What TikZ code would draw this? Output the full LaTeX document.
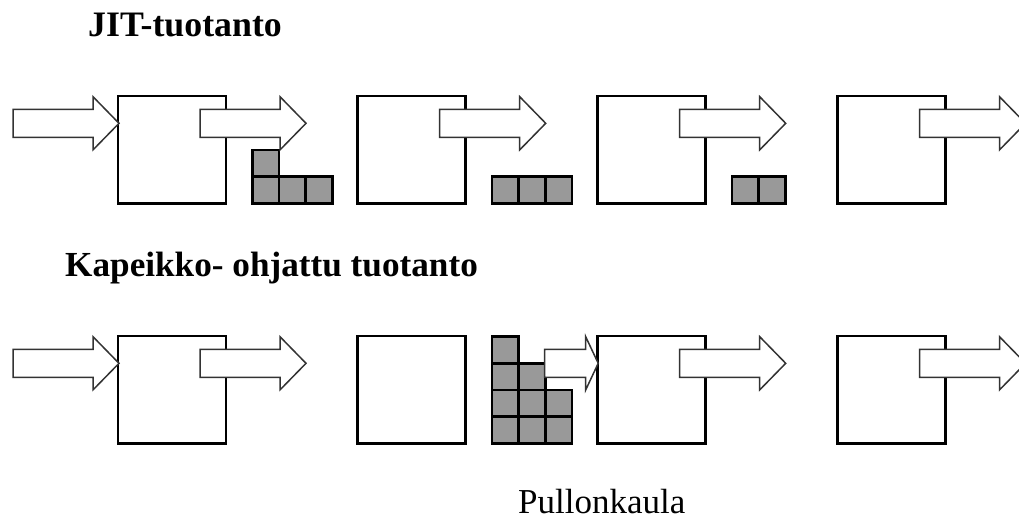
\documentclass[tikz,border=0pt]{standalone}
\usepackage{fontspec}
\setmainfont{Liberation Serif}
\usetikzlibrary{calc}
\definecolor{partgray}{HTML}{999999}
\tikzset{
  procbox/.style={draw=black, line width=2.8pt, fill=white, minimum width=108pt, minimum height=107.3pt, inner sep=0pt, outer sep=0pt},
  part/.style={draw=black, line width=2.6pt, fill=partgray, minimum width=26.7pt, minimum height=26.7pt, inner sep=0pt, outer sep=0pt},
  blockarrow/.style={draw=black!80, line width=1.5pt, fill=white, line join=miter},
  heading/.style={font=\fontsize{35.2}{40}\selectfont\bfseries, anchor=base west, inner sep=0pt},
  caption/.style={font=\fontsize{35}{40}\selectfont, anchor=base west, inner sep=0pt},
  pics/flowarr/.style 2 args={code={
    \draw[blockarrow] (0,-14) -- (#1,-14) -- (#1,-26.6) -- ({#1+#2},0) -- (#1,26.6) -- (#1,14) -- (0,14) -- cycle;
  }}
}
\begin{document}
\begin{tikzpicture}[x=1pt, y=-1pt]
\useasboundingbox (0,0) rectangle (1019,520);

% headings
\node[heading, font=\fontsize{35.8}{40}\selectfont\bfseries] (t1) at (88,36) {JIT-tuotanto};
\node[heading] (t2) at (65,276.7) {Kapeikko- ohjattu tuotanto};
\node[caption] (t3) at (518,513) {Pullonkaula};

% row 1 boxes
\node[procbox] (b11) at (172,149.65) {};
\node[procbox] (b12) at (411.7,149.65) {};
\node[procbox] (b13) at (651.7,149.65) {};
\node[procbox] (b14) at (891.5,149.65) {};
% row 2 boxes
\node[procbox] (b21) at (172,389.65) {};
\node[procbox] (b22) at (411.7,389.65) {};
\node[procbox] (b23) at (651.7,389.65) {};
\node[procbox] (b24) at (891.5,389.65) {};

% row 1 parts
\foreach \c/\h in {0/2,1/1,2/1}
  \foreach \r in {1,...,\h}
    \node[part] (qa-\c-\r) at ($(b11.south east)+({26.3+13.35+26.7*\c},{-13.35-26.7*(\r-1)})$) {};
\foreach \c in {0,1,2}
  \node[part] (qb-\c) at ($(b12.south east)+({26.3+13.35+26.7*\c},-13.35)$) {};
\foreach \c in {0,1}
  \node[part] (qc-\c) at ($(b13.south east)+({26.3+13.35+26.7*\c},-13.35)$) {};
% row 2 parts (bottleneck queue)
\foreach \c/\h in {0/4,1/3,2/2}
  \foreach \r in {1,...,\h}
    \node[part] (qd-\c-\r) at ($(b22.south east)+({26.3+13.35+26.7*\c},{-13.35-26.7*(\r-1)})$) {};

% row 1 arrows
\pic at ($(b11.north west)+(-105,27.3)$) {flowarr={80}{26}};
\pic at ($(b11.north west)+(82,27.3)$) {flowarr={80}{26}};
\pic at ($(b12.north west)+(82,27.3)$) {flowarr={80}{26}};
\pic at ($(b13.north west)+(82,27.3)$) {flowarr={80}{26}};
\pic at ($(b14.north west)+(82,27.3)$) {flowarr={80}{26}};
% row 2 arrows
\pic at ($(b21.north west)+(-105,27.3)$) {flowarr={80}{26}};
\pic at ($(b21.north west)+(82,27.3)$) {flowarr={80}{26}};
\pic at ($(b23.north west)+(-53,27.3)$) {flowarr={41}{12.5}};
\pic at ($(b23.north west)+(82,27.3)$) {flowarr={80}{26}};
\pic at ($(b24.north west)+(82,27.3)$) {flowarr={80}{26}};
\end{tikzpicture}
\end{document}
